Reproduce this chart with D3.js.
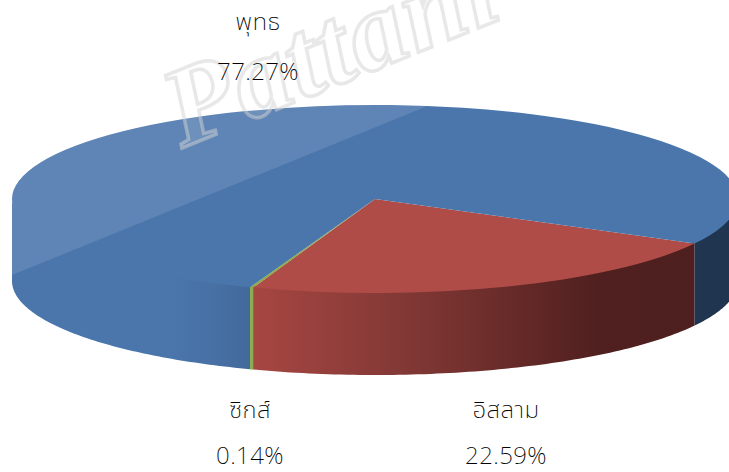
<!DOCTYPE html>
<html><head><meta charset="utf-8">
<script src="https://cdn.jsdelivr.net/npm/d3@7/dist/d3.min.js"></script>
<style>html,body{margin:0;padding:0;background:#fff;overflow:hidden}svg{display:block}</style>
</head><body><div id="c"></div>
<script>
const categories = ["อิสลาม", "ซิกส์", "พุทธ"];
const shares = [22.59, 0.14, 77.27];
const labels = ["22.59%", "0.14%", "77.27%"];
const colors = ["#b04c48", "#8bad4f", "#4a76ac"];

const W = 729, H = 472, cx = 375, cy = 199, rx = 363, ry = 94, depth = 82;
const svg = d3.select("#c").append("svg").attr("width", W).attr("height", H);
const defs = svg.append("defs");

const start = (90 + 28.3) * Math.PI / 180;
const pie = d3.pie().sort(null).startAngle(start).endAngle(start + 2 * Math.PI);
const arcs = pie(shares);
const arc = d3.arc().innerRadius(0).outerRadius(rx);
const px = a => cx + rx * Math.sin(a), py = a => cy - ry * Math.cos(a);

const grad = (id, stops) => {
  const g = defs.append("linearGradient").attr("id", id).attr("gradientUnits", "userSpaceOnUse")
    .attr("x1", 12).attr("x2", 729).attr("y1", 0).attr("y2", 0);
  stops.forEach(([o, c]) => g.append("stop").attr("offset", (o - 12) / 717).attr("stop-color", c));
};
grad("gBlue", [[12, "#4a76ac"], [170, "#4a76ac"], [210, "#4871a5"], [252, "#43699b"], [729, "#1f3550"]]);
grad("gRed", [[252, "#a74642"], [400, "#833936"], [500, "#6a2c2a"], [600, "#4f201f"], [729, "#4d1f1e"]]);

const ring = d3.range(0, 361, 2).map(d => d * Math.PI / 180);
const clip = defs.append("clipPath").attr("id", "pieClip");
clip.append("path").attr("d", d3.line().x(px).y(py)(ring) + "Z");
clip.append("path").attr("d", "M" + (cx - rx) + "," + cy + "V" + (cy + depth)
  + "A" + rx + "," + ry + " 0 0 0 " + (cx + rx) + "," + (cy + depth) + "V" + cy + "Z");

// side wall of one slice, between two clock angles, only on the visible (lower) half
function wall(a0, a1) {
  const lo = Math.max(a0, Math.PI / 2), hi = Math.min(a1, 3 * Math.PI / 2);
  if (hi <= lo) return null;
  const n = 80, pts = d3.range(n + 1).map(i => lo + (hi - lo) * i / n);
  const l = d3.line();
  return l(pts.map(a => [px(a), py(a) - 1.5]).concat(pts.slice().reverse().map(a => [px(a), py(a) + depth]))) + "Z";
}
const g = svg.append("g");
const t = 2 * Math.PI;
const walls = [
  { d: wall(arcs[0].startAngle, arcs[0].endAngle), fill: "url(#gRed)" },
  { d: wall(arcs[1].startAngle, arcs[1].endAngle), fill: "#8bad4f" },
  { d: wall(arcs[2].startAngle, arcs[2].endAngle), fill: "url(#gBlue)" },
  { d: wall(arcs[2].startAngle - t, arcs[2].endAngle - t), fill: "#1f3550" }
].filter(w => w.d);
g.selectAll("path.wall").data(walls).join("path").attr("class", "wall")
  .attr("d", w => w.d).attr("fill", w => w.fill);

g.append("g").attr("transform", `translate(${cx},${cy}) scale(1,${ry / rx})`)
  .selectAll("path").data(arcs).join("path")
  .attr("d", arc).attr("fill", (d, i) => colors[i]);
// green sliver keeps a visible width along its radius
const sik = arcs[1], sm = (sik.startAngle + sik.endAngle) / 2;
g.append("line").attr("x1", cx + (px(sm) - cx) * 0.62).attr("y1", cy + (py(sm) - cy) * 0.62)
  .attr("x2", px(sm)).attr("y2", py(sm)).attr("stroke", colors[1]).attr("stroke-width", 1.3);
g.append("line").attr("x1", px(sm)).attr("y1", py(sm)).attr("x2", px(sm)).attr("y2", py(sm) + depth)
  .attr("stroke", colors[1]).attr("stroke-width", 2.2);
// glossy highlight on the upper-left
g.append("path").attr("clip-path", "url(#pieClip)")
  .attr("d", d3.line()([[0, 280], [430, 105], [430, 90], [0, 90]]) + "Z")
  .attr("fill", "#ffffff").attr("opacity", 0.115);

// watermark
const wm = svg.append("g").attr("transform", "translate(182,148) rotate(-22)");
wm.append("text").text("Pattani C").attr("font-family", "'Liberation Serif'")
  .attr("font-style", "italic").attr("font-weight", "bold").attr("font-size", 112).attr("letter-spacing", 2)
  .attr("fill", "#fff").attr("fill-opacity", 0.1).attr("stroke", "#d2d2d2").attr("stroke-opacity", 0.5).attr("stroke-width", 3.5);

// labels
const font = "'Noto Sans Thai','Loma','Garuda','DejaVu Sans','Noto Sans',sans-serif";
const lab = [
  { n: categories[2], v: labels[2], x: 258, y1: 30, y2: 80 },
  { n: categories[1], v: labels[1], x: 250, y1: 418, y2: 464 },
  { n: categories[0], v: labels[0], x: 506, y1: 418, y2: 464 }
];
const tg = svg.append("g").attr("text-anchor", "middle").attr("font-family", font).attr("font-size", 24)
  .attr("font-weight", 200).attr("fill", "#000").attr("letter-spacing", 0.4);
lab.forEach(l => {
  tg.append("text").attr("x", l.x).attr("y", l.y1).text(l.n);
  tg.append("text").attr("x", l.x).attr("y", l.y2).text(l.v);
});
</script></body></html>
